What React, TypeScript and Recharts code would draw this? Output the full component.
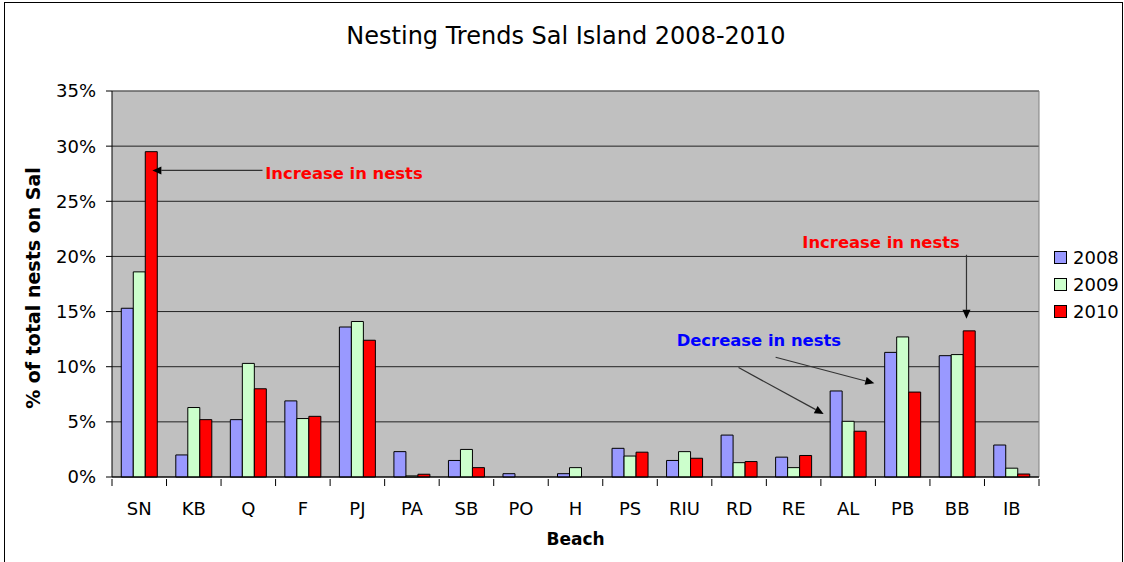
import {
  Bar,
  BarChart,
  CartesianGrid,
  Legend,
  ReferenceDot,
  ReferenceLine,
  XAxis,
  YAxis,
} from "recharts";

const beaches = ["SN", "KB", "Q", "F", "PJ", "PA", "SB", "PO", "H", "PS", "RIU", "RD", "RE", "AL", "PB", "BB", "IB"];
const nests2008 = [15.3, 2.0, 5.2, 6.9, 13.6, 2.3, 1.5, 0.3, 0.3, 2.6, 1.5, 3.8, 1.8, 7.8, 11.3, 11.0, 2.9];
const nests2009 = [18.6, 6.3, 10.3, 5.3, 14.1, 0.1, 2.5, 0, 0.85, 1.9, 2.3, 1.3, 0.85, 5.05, 12.7, 11.1, 0.8];
const nests2010 = [29.5, 5.2, 8.0, 5.5, 12.4, 0.25, 0.85, 0, 0, 2.25, 1.7, 1.4, 1.95, 4.15, 7.7, 13.25, 0.27];
const yTicks = [0, 5, 10, 15, 20, 25, 30, 35];

// notes sit on a hidden 0..17 axis (one unit per beach) and the % axis
const notes = [
  { text: "Increase in nests", x: 2.81, y: 27.56, color: "#FF0000", anchor: "start" },
  { text: "Increase in nests", x: 12.66, y: 21.26, color: "#FF0000", anchor: "start" },
  { text: "Decrease in nests", x: 13.37, y: 12.34, color: "#0000FF", anchor: "end" },
];
const arrows = [
  [{ x: 2.76, y: 27.8 }, { x: 0.74, y: 27.8 }],
  [{ x: 15.67, y: 20.15 }, { x: 15.67, y: 14.34 }],
  [{ x: 11.49, y: 9.92 }, { x: 13.05, y: 5.72 }],
  [{ x: 12.17, y: 10.86 }, { x: 13.98, y: 8.5 }],
];

const data = beaches.map((beach, i) => ({
  beach,
  pos: i + 0.5,
  y2008: nests2008[i],
  y2009: nests2009[i],
  y2010: nests2010[i],
}));

// label in the middle, tick marks on the category edges
function BeachTick({ x, y, payload, index }: any) {
  const half = payload.offset || 927 / beaches.length / 2;
  const last = index === beaches.length - 1;
  return (
    <g>
      <line x1={x - half} y1={y} x2={x - half} y2={y + 7} stroke="#000" />
      {last && <line x1={x + half} y1={y} x2={x + half} y2={y + 7} stroke="#000" />}
      <text x={x} y={y + 36} textAnchor="middle" fontSize={18} fill="#000">
        {payload.value}
      </text>
    </g>
  );
}

function Arrow(props: any) {
  const { x1, y1, x2, y2 } = props;
  const ang = Math.atan2(y2 - y1, x2 - x1);
  const len = 9;
  const half = 4;
  const bx = x2 - len * Math.cos(ang);
  const by = y2 - len * Math.sin(ang);
  const p1 = `${bx - half * Math.sin(ang)},${by + half * Math.cos(ang)}`;
  const p2 = `${bx + half * Math.sin(ang)},${by - half * Math.cos(ang)}`;
  return (
    <g>
      <line x1={x1} y1={y1} x2={bx} y2={by} stroke="#333" strokeWidth={1.2} />
      <polygon points={`${x2},${y2} ${p1} ${p2}`} fill="#000" />
    </g>
  );
}

function LegendBox({ payload }: any) {
  return (
    <div>
      {(payload || []).map((item: any) => (
        <div key={item.value} style={{ display: "flex", alignItems: "center", height: 27 }}>
          <span
            style={{
              width: 11,
              height: 11,
              background: item.color,
              border: "1px solid #000",
              marginRight: 6,
            }}
          />
          <span style={{ fontSize: 18, color: "#000" }}>{item.value}</span>
        </div>
      ))}
    </div>
  );
}

export default function App() {
  return (
    <div
      style={{
        position: "absolute",
        left: 0,
        top: 0,
        width: 1124,
        height: 562,
        background: "#fff",
        overflow: "hidden",
        fontFamily: "'DejaVu Sans', Verdana, sans-serif",
      }}
    >
      <div
        style={{
          position: "absolute",
          left: 4,
          top: 2,
          width: 1117,
          height: 620,
          border: "1px solid #000",
        }}
      />
      <div
        style={{
          position: "absolute",
          left: 8,
          top: 22,
          width: 1116,
          lineHeight: "28px",
          fontSize: 24,
          textAlign: "center",
          color: "#000",
        }}
      >
        Nesting Trends Sal Island 2008-2010
      </div>
      <BarChart
        width={1124}
        height={562}
        data={data}
        margin={{ top: 91, right: 85, bottom: 55, left: 32 }}
        barGap={0}
        barCategoryGap="17%"
      >
        <CartesianGrid vertical={false} fill="#C0C0C0" stroke="#222" />
        <XAxis
          dataKey="beach"
          interval={0}
          tick={<BeachTick />}
          tickSize={0}
          tickLine={false}
          axisLine={{ stroke: "#000" }}
          height={30}
          label={{
            content: ({ viewBox }: any) => (
              <text
                x={viewBox.x + viewBox.width / 2}
                y={viewBox.y + 68}
                textAnchor="middle"
                fontSize={17}
                fontWeight="bold"
                fill="#000"
              >
                Beach
              </text>
            ),
          }}
        />
        <XAxis
          xAxisId="n"
          dataKey="pos"
          type="number"
          scale="linear"
          domain={[0, beaches.length]}
          ticks={[0, beaches.length]}
          allowDataOverflow
          hide
        />
        <YAxis
          width={80}
          domain={[0, 35]}
          ticks={yTicks}
          tickFormatter={(v) => `${v}%`}
          tick={{ fontSize: 18, fill: "#000" }}
          tickSize={6}
          tickMargin={10}
          tickLine={{ stroke: "#000" }}
          axisLine={{ stroke: "#000" }}
          label={{
            content: ({ viewBox }: any) => {
              const cx = viewBox.x + 1;
              const cy = viewBox.y + viewBox.height / 2 + 4;
              return (
                <text
                  x={cx}
                  y={cy}
                  transform={`rotate(-90 ${cx} ${cy})`}
                  textAnchor="middle"
                  dominantBaseline="central"
                  fontSize={19}
                  fontWeight="bold"
                  fill="#000"
                >
                  % of total nests on Sal
                </text>
              );
            },
          }}
        />
        <ReferenceLine y={35} stroke="#808080" />
        <ReferenceLine xAxisId="n" x={beaches.length} stroke="#808080" />
        <Bar dataKey="y2008" name="2008" fill="#9999FF" stroke="#000" strokeWidth={1} isAnimationActive={false} />
        <Bar dataKey="y2009" name="2009" fill="#CCFFCC" stroke="#000" strokeWidth={1} isAnimationActive={false} />
        <Bar dataKey="y2010" name="2010" fill="#FF0000" stroke="#000" strokeWidth={1} isAnimationActive={false} />
        {arrows.map((seg, i) => (
          <ReferenceLine key={`a${i}`} xAxisId="n" segment={seg} shape={Arrow} />
        ))}
        {notes.map((n, i) => (
          <ReferenceDot
            key={`t${i}`}
            xAxisId="n"
            x={n.x}
            y={n.y}
            r={0}
            shape={(p: any) => (
              <text
                x={p.cx}
                y={p.cy}
                textAnchor={n.anchor}
                dominantBaseline="central"
                fontSize={16.4}
                fontWeight="bold"
                fill={n.color}
              >
                {n.text}
              </text>
            )}
          />
        ))}
        <Legend
          layout="horizontal"
          verticalAlign="middle"
          align="center"
          wrapperStyle={{ left: 1054, top: 244, width: 70, margin: 0 }}
          content={<LegendBox />}
        />
      </BarChart>
    </div>
  );
}
